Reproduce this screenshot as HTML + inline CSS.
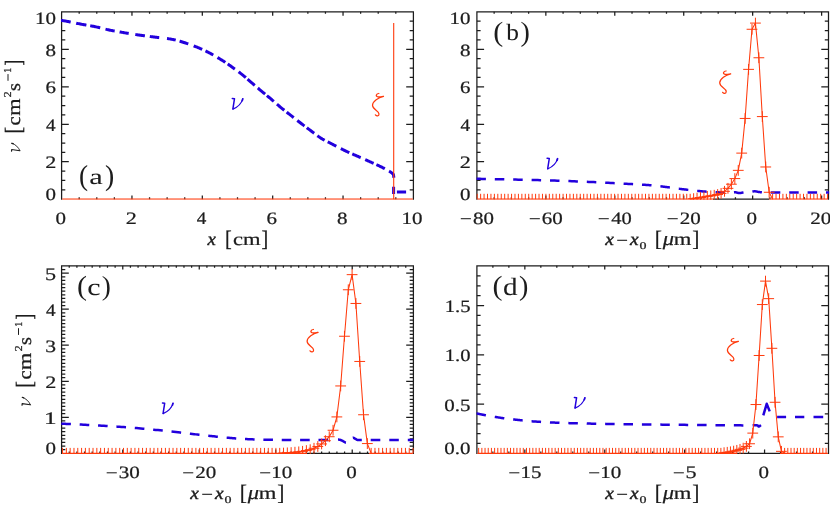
<!DOCTYPE html>
<html><head><meta charset="utf-8"><title>figure</title>
<style>html,body{margin:0;padding:0;background:#fff;}body{width:830px;height:507px;overflow:hidden;font-family:"Liberation Serif",serif;}svg{display:block;will-change:transform;text-rendering:geometricPrecision;}</style></head>
<body>
<svg width="830" height="507" viewBox="0 0 830 507" font-family='"Liberation Serif", serif'>
<rect width="830" height="507" fill="#fff"/>
<defs>
<clipPath id="cpa"><rect x="61.00" y="11.25" width="353.00" height="188.55"/></clipPath>
<clipPath id="cpb"><rect x="476.30" y="11.25" width="352.80" height="188.55"/></clipPath>
<clipPath id="cpc"><rect x="61.00" y="265.15" width="353.00" height="188.75"/></clipPath>
<clipPath id="cpd"><rect x="476.30" y="265.15" width="352.80" height="188.75"/></clipPath>
</defs>
<path d="M61.60,199.82 V11.85 H413.40 V199.82" fill="none" stroke="#1c1c1c" stroke-width="1.25" stroke-linejoin="miter"/>
<path d="M79.19,199.20v-1.9M79.19,11.85v1.9M96.78,199.20v-1.9M96.78,11.85v1.9M114.37,199.20v-1.9M114.37,11.85v1.9M131.96,199.20v-3.8M131.96,11.85v3.8M149.55,199.20v-1.9M149.55,11.85v1.9M167.14,199.20v-1.9M167.14,11.85v1.9M184.73,199.20v-1.9M184.73,11.85v1.9M202.32,199.20v-3.8M202.32,11.85v3.8M219.91,199.20v-1.9M219.91,11.85v1.9M237.50,199.20v-1.9M237.50,11.85v1.9M255.09,199.20v-1.9M255.09,11.85v1.9M272.68,199.20v-3.8M272.68,11.85v3.8M290.27,199.20v-1.9M290.27,11.85v1.9M307.86,199.20v-1.9M307.86,11.85v1.9M325.45,199.20v-1.9M325.45,11.85v1.9M343.04,199.20v-3.8M343.04,11.85v3.8M360.63,199.20v-1.9M360.63,11.85v1.9M378.22,199.20v-1.9M378.22,11.85v1.9M395.81,199.20v-1.9M395.81,11.85v1.9M61.60,189.83h3.7M413.40,189.83h-3.7M61.60,180.46h3.7M413.40,180.46h-3.7M61.60,171.10h3.7M413.40,171.10h-3.7M61.60,161.73h7.2M413.40,161.73h-7.2M61.60,152.36h3.7M413.40,152.36h-3.7M61.60,143.00h3.7M413.40,143.00h-3.7M61.60,133.63h3.7M413.40,133.63h-3.7M61.60,124.26h7.2M413.40,124.26h-7.2M61.60,114.89h3.7M413.40,114.89h-3.7M61.60,105.52h3.7M413.40,105.52h-3.7M61.60,96.16h3.7M413.40,96.16h-3.7M61.60,86.79h7.2M413.40,86.79h-7.2M61.60,77.42h3.7M413.40,77.42h-3.7M61.60,68.06h3.7M413.40,68.06h-3.7M61.60,58.69h3.7M413.40,58.69h-3.7M61.60,49.32h7.2M413.40,49.32h-7.2M61.60,39.95h3.7M413.40,39.95h-3.7M61.60,30.58h3.7M413.40,30.58h-3.7M61.60,21.22h3.7M413.40,21.22h-3.7" fill="none" stroke="#1c1c1c" stroke-width="1.25"/>
<path d="M476.90,199.82 V11.85 H828.50 V199.82 M713.00,199.20 H769.00" fill="none" stroke="#1c1c1c" stroke-width="1.25" stroke-linejoin="miter"/>
<path d="M494.14,199.20v-1.9M494.14,11.85v1.9M511.37,199.20v-1.9M511.37,11.85v1.9M528.61,199.20v-1.9M528.61,11.85v1.9M545.84,199.20v-3.8M545.84,11.85v3.8M563.08,199.20v-1.9M563.08,11.85v1.9M580.31,199.20v-1.9M580.31,11.85v1.9M597.55,199.20v-1.9M597.55,11.85v1.9M614.78,199.20v-3.8M614.78,11.85v3.8M632.02,199.20v-1.9M632.02,11.85v1.9M649.25,199.20v-1.9M649.25,11.85v1.9M666.49,199.20v-1.9M666.49,11.85v1.9M683.72,199.20v-3.8M683.72,11.85v3.8M700.96,199.20v-1.9M700.96,11.85v1.9M718.19,199.20v-1.9M718.19,11.85v1.9M735.43,199.20v-1.9M735.43,11.85v1.9M752.66,199.20v-3.8M752.66,11.85v3.8M769.90,199.20v-1.9M769.90,11.85v1.9M787.14,199.20v-1.9M787.14,11.85v1.9M804.37,199.20v-1.9M804.37,11.85v1.9M821.61,199.20v-3.8M821.61,11.85v3.8M476.90,189.83h3.7M828.50,189.83h-3.7M476.90,180.46h3.7M828.50,180.46h-3.7M476.90,171.10h3.7M828.50,171.10h-3.7M476.90,161.73h7.2M828.50,161.73h-7.2M476.90,152.36h3.7M828.50,152.36h-3.7M476.90,143.00h3.7M828.50,143.00h-3.7M476.90,133.63h3.7M828.50,133.63h-3.7M476.90,124.26h7.2M828.50,124.26h-7.2M476.90,114.89h3.7M828.50,114.89h-3.7M476.90,105.52h3.7M828.50,105.52h-3.7M476.90,96.16h3.7M828.50,96.16h-3.7M476.90,86.79h7.2M828.50,86.79h-7.2M476.90,77.42h3.7M828.50,77.42h-3.7M476.90,68.06h3.7M828.50,68.06h-3.7M476.90,58.69h3.7M828.50,58.69h-3.7M476.90,49.32h7.2M828.50,49.32h-7.2M476.90,39.95h3.7M828.50,39.95h-3.7M476.90,30.58h3.7M828.50,30.58h-3.7M476.90,21.22h3.7M828.50,21.22h-3.7" fill="none" stroke="#1c1c1c" stroke-width="1.25"/>
<path d="M61.60,453.93 V265.75 H413.40 V453.93 M307.00,453.30 H369.00" fill="none" stroke="#1c1c1c" stroke-width="1.25" stroke-linejoin="miter"/>
<path d="M69.25,453.30v-1.9M69.25,265.75v1.9M76.90,453.30v-1.9M76.90,265.75v1.9M84.54,453.30v-1.9M84.54,265.75v1.9M92.19,453.30v-1.9M92.19,265.75v1.9M99.84,453.30v-1.9M99.84,265.75v1.9M107.49,453.30v-1.9M107.49,265.75v1.9M115.13,453.30v-1.9M115.13,265.75v1.9M122.78,453.30v-3.8M122.78,265.75v3.8M130.43,453.30v-1.9M130.43,265.75v1.9M138.08,453.30v-1.9M138.08,265.75v1.9M145.73,453.30v-1.9M145.73,265.75v1.9M153.37,453.30v-1.9M153.37,265.75v1.9M161.02,453.30v-1.9M161.02,265.75v1.9M168.67,453.30v-1.9M168.67,265.75v1.9M176.32,453.30v-1.9M176.32,265.75v1.9M183.97,453.30v-1.9M183.97,265.75v1.9M191.61,453.30v-1.9M191.61,265.75v1.9M199.26,453.30v-3.8M199.26,265.75v3.8M206.91,453.30v-1.9M206.91,265.75v1.9M214.56,453.30v-1.9M214.56,265.75v1.9M222.20,453.30v-1.9M222.20,265.75v1.9M229.85,453.30v-1.9M229.85,265.75v1.9M237.50,453.30v-1.9M237.50,265.75v1.9M245.15,453.30v-1.9M245.15,265.75v1.9M252.80,453.30v-1.9M252.80,265.75v1.9M260.44,453.30v-1.9M260.44,265.75v1.9M268.09,453.30v-1.9M268.09,265.75v1.9M275.74,453.30v-3.8M275.74,265.75v3.8M283.39,453.30v-1.9M283.39,265.75v1.9M291.03,453.30v-1.9M291.03,265.75v1.9M298.68,453.30v-1.9M298.68,265.75v1.9M306.33,453.30v-1.9M306.33,265.75v1.9M313.98,453.30v-1.9M313.98,265.75v1.9M321.63,453.30v-1.9M321.63,265.75v1.9M329.27,453.30v-1.9M329.27,265.75v1.9M336.92,453.30v-1.9M336.92,265.75v1.9M344.57,453.30v-1.9M344.57,265.75v1.9M352.22,453.30v-3.8M352.22,265.75v3.8M359.87,453.30v-1.9M359.87,265.75v1.9M367.51,453.30v-1.9M367.51,265.75v1.9M375.16,453.30v-1.9M375.16,265.75v1.9M382.81,453.30v-1.9M382.81,265.75v1.9M390.46,453.30v-1.9M390.46,265.75v1.9M398.10,453.30v-1.9M398.10,265.75v1.9M405.75,453.30v-1.9M405.75,265.75v1.9M61.60,449.70h3.7M413.40,449.70h-3.7M61.60,446.10h3.7M413.40,446.10h-3.7M61.60,442.49h3.7M413.40,442.49h-3.7M61.60,438.89h3.7M413.40,438.89h-3.7M61.60,435.29h3.7M413.40,435.29h-3.7M61.60,431.69h3.7M413.40,431.69h-3.7M61.60,428.09h3.7M413.40,428.09h-3.7M61.60,424.48h3.7M413.40,424.48h-3.7M61.60,420.88h3.7M413.40,420.88h-3.7M61.60,417.28h7.2M413.40,417.28h-7.2M61.60,413.68h3.7M413.40,413.68h-3.7M61.60,410.08h3.7M413.40,410.08h-3.7M61.60,406.48h3.7M413.40,406.48h-3.7M61.60,402.87h3.7M413.40,402.87h-3.7M61.60,399.27h3.7M413.40,399.27h-3.7M61.60,395.67h3.7M413.40,395.67h-3.7M61.60,392.07h3.7M413.40,392.07h-3.7M61.60,388.47h3.7M413.40,388.47h-3.7M61.60,384.86h3.7M413.40,384.86h-3.7M61.60,381.26h7.2M413.40,381.26h-7.2M61.60,377.66h3.7M413.40,377.66h-3.7M61.60,374.06h3.7M413.40,374.06h-3.7M61.60,370.46h3.7M413.40,370.46h-3.7M61.60,366.85h3.7M413.40,366.85h-3.7M61.60,363.25h3.7M413.40,363.25h-3.7M61.60,359.65h3.7M413.40,359.65h-3.7M61.60,356.05h3.7M413.40,356.05h-3.7M61.60,352.45h3.7M413.40,352.45h-3.7M61.60,348.85h3.7M413.40,348.85h-3.7M61.60,345.24h7.2M413.40,345.24h-7.2M61.60,341.64h3.7M413.40,341.64h-3.7M61.60,338.04h3.7M413.40,338.04h-3.7M61.60,334.44h3.7M413.40,334.44h-3.7M61.60,330.84h3.7M413.40,330.84h-3.7M61.60,327.23h3.7M413.40,327.23h-3.7M61.60,323.63h3.7M413.40,323.63h-3.7M61.60,320.03h3.7M413.40,320.03h-3.7M61.60,316.43h3.7M413.40,316.43h-3.7M61.60,312.83h3.7M413.40,312.83h-3.7M61.60,309.22h7.2M413.40,309.22h-7.2M61.60,305.62h3.7M413.40,305.62h-3.7M61.60,302.02h3.7M413.40,302.02h-3.7M61.60,298.42h3.7M413.40,298.42h-3.7M61.60,294.82h3.7M413.40,294.82h-3.7M61.60,291.22h3.7M413.40,291.22h-3.7M61.60,287.61h3.7M413.40,287.61h-3.7M61.60,284.01h3.7M413.40,284.01h-3.7M61.60,280.41h3.7M413.40,280.41h-3.7M61.60,276.81h3.7M413.40,276.81h-3.7M61.60,273.21h7.2M413.40,273.21h-7.2M61.60,269.60h3.7M413.40,269.60h-3.7" fill="none" stroke="#1c1c1c" stroke-width="1.25"/>
<path d="M476.90,453.93 V265.75 H828.50 V453.93 M737.00,453.30 H780.00" fill="none" stroke="#1c1c1c" stroke-width="1.25" stroke-linejoin="miter"/>
<path d="M492.88,453.30v-1.9M492.88,265.75v1.9M508.86,453.30v-1.9M508.86,265.75v1.9M524.85,453.30v-3.8M524.85,265.75v3.8M540.83,453.30v-1.9M540.83,265.75v1.9M556.81,453.30v-1.9M556.81,265.75v1.9M572.79,453.30v-1.9M572.79,265.75v1.9M588.77,453.30v-1.9M588.77,265.75v1.9M604.75,453.30v-3.8M604.75,265.75v3.8M620.74,453.30v-1.9M620.74,265.75v1.9M636.72,453.30v-1.9M636.72,265.75v1.9M652.70,453.30v-1.9M652.70,265.75v1.9M668.68,453.30v-1.9M668.68,265.75v1.9M684.66,453.30v-3.8M684.66,265.75v3.8M700.65,453.30v-1.9M700.65,265.75v1.9M716.63,453.30v-1.9M716.63,265.75v1.9M732.61,453.30v-1.9M732.61,265.75v1.9M748.59,453.30v-1.9M748.59,265.75v1.9M764.57,453.30v-3.8M764.57,265.75v3.8M780.55,453.30v-1.9M780.55,265.75v1.9M796.54,453.30v-1.9M796.54,265.75v1.9M812.52,453.30v-1.9M812.52,265.75v1.9M476.90,443.45h3.7M828.50,443.45h-3.7M476.90,433.60h3.7M828.50,433.60h-3.7M476.90,423.75h3.7M828.50,423.75h-3.7M476.90,413.90h3.7M828.50,413.90h-3.7M476.90,404.05h7.2M828.50,404.05h-7.2M476.90,394.20h3.7M828.50,394.20h-3.7M476.90,384.35h3.7M828.50,384.35h-3.7M476.90,374.50h3.7M828.50,374.50h-3.7M476.90,364.65h3.7M828.50,364.65h-3.7M476.90,354.80h7.2M828.50,354.80h-7.2M476.90,344.95h3.7M828.50,344.95h-3.7M476.90,335.10h3.7M828.50,335.10h-3.7M476.90,325.25h3.7M828.50,325.25h-3.7M476.90,315.40h3.7M828.50,315.40h-3.7M476.90,305.55h7.2M828.50,305.55h-7.2M476.90,295.69h3.7M828.50,295.69h-3.7M476.90,285.84h3.7M828.50,285.84h-3.7M476.90,275.99h3.7M828.50,275.99h-3.7" fill="none" stroke="#1c1c1c" stroke-width="1.25"/>
<g clip-path="url(#cpa)">
<path d="M61.00,20.50 L61.60,20.50 L61.74,20.52 L61.87,20.53 L62.00,20.55 L62.15,20.56 L62.30,20.57 L62.47,20.59 L62.66,20.61 L62.87,20.63 L63.12,20.66 L63.39,20.70 L63.71,20.75 L64.07,20.80 L64.48,20.87 L64.95,20.95 L65.47,21.04 L66.05,21.15 L66.71,21.28 L67.45,21.42 L68.26,21.58 L69.13,21.76 L70.06,21.94 L70.70,22.07 M76.20,23.19 L76.27,23.21 L77.33,23.42 L78.37,23.63 L79.38,23.83 L80.36,24.02 L81.30,24.20 L82.20,24.37 L83.10,24.53 L83.98,24.69 L84.85,24.84 L85.71,24.99 L86.40,25.11 M90.20,25.75 L90.83,25.86 L91.69,26.02 L92.55,26.18 L93.42,26.34 L94.31,26.52 L95.20,26.70 L96.11,26.89 L97.02,27.10 L97.94,27.31 L98.87,27.53 L99.81,27.75 L100.20,27.85 M105.50,29.15 L106.41,29.37 L107.34,29.59 L108.27,29.80 L109.19,30.01 L110.10,30.20 L111.00,30.38 L111.88,30.56 L112.76,30.73 L113.63,30.90 L114.49,31.06 L114.70,31.09 M119.60,31.94 L119.65,31.95 L120.52,32.10 L121.41,32.25 L122.31,32.39 L123.22,32.55 L124.15,32.70 L125.10,32.86 L126.06,33.02 L127.05,33.18 L128.04,33.34 L128.70,33.45 M135.30,34.48 L136.18,34.62 L137.18,34.77 L138.17,34.92 L139.14,35.06 L140.10,35.20 L141.04,35.33 L141.96,35.46 L142.86,35.59 L143.75,35.71 L144.63,35.83 L144.90,35.87 M149.80,36.50 L149.87,36.51 L150.76,36.63 L151.67,36.74 L152.59,36.86 L153.54,36.98 L154.50,37.10 L155.49,37.22 L156.52,37.34 L157.57,37.46 L158.64,37.58 L159.20,37.64 M167.00,38.54 L167.38,38.59 L168.42,38.73 L169.43,38.88 L170.41,39.04 L171.35,39.20 L172.25,39.37 L173.12,39.54 L173.96,39.72 L174.77,39.90 L175.55,40.08 L175.70,40.12 M179.60,41.17 L180.05,41.30 L180.80,41.52 L181.56,41.76 L182.34,42.00 L183.13,42.24 L183.95,42.50 L184.79,42.77 L185.65,43.05 L186.53,43.33 L187.41,43.63 L188.30,43.94 M193.70,45.88 L193.72,45.89 L194.60,46.23 L195.47,46.56 L196.31,46.89 L197.14,47.22 L197.95,47.55 L198.73,47.87 L199.49,48.19 L200.24,48.51 L200.97,48.83 L201.68,49.15 L202.20,49.38 M205.50,50.94 L205.83,51.10 L206.52,51.44 L207.21,51.79 L207.91,52.15 L208.62,52.52 L209.35,52.90 L210.09,53.29 L210.84,53.69 L211.60,54.11 L212.37,54.53 L213.14,54.96 L213.30,55.05 M217.50,57.49 L217.77,57.65 L218.52,58.10 L219.26,58.54 L219.99,58.98 L220.70,59.42 L221.40,59.85 L222.08,60.27 L222.73,60.69 L223.38,61.09 L224.00,61.50 L224.62,61.90 L225.23,62.30 L225.30,62.35 M227.70,63.98 L228.20,64.32 L228.81,64.74 L229.41,65.17 L230.03,65.60 L230.66,66.05 L231.30,66.50 L231.96,66.97 L232.63,67.45 L233.31,67.93 L234.00,68.43 L234.70,68.94 L234.90,69.08 M238.60,71.82 L238.90,72.05 L239.59,72.57 L240.26,73.08 L240.92,73.59 L241.57,74.10 L242.20,74.60 L242.81,75.09 L243.41,75.58 L243.99,76.06 L244.55,76.54 L245.11,77.01 L245.66,77.49 L245.80,77.61 M247.60,79.19 L247.82,79.39 L248.36,79.87 L248.91,80.35 L249.46,80.84 L250.03,81.34 L250.61,81.84 L251.20,82.35 L251.81,82.87 L252.43,83.41 L253.06,83.95 L253.71,84.50 L254.36,85.06 L254.80,85.44 M257.80,88.01 L258.30,88.44 L258.95,88.99 L259.59,89.53 L260.22,90.07 L260.84,90.59 L261.45,91.10 L262.04,91.60 L262.62,92.08 L263.18,92.54 L263.74,93.00 L264.28,93.45 L264.82,93.89 L265.10,94.12 M266.90,95.59 L266.97,95.65 L267.51,96.09 L268.06,96.54 L268.61,97.00 L269.18,97.47 L269.76,97.95 L270.35,98.45 L270.96,98.96 L271.58,99.49 L272.21,100.03 L272.84,100.59 L273.49,101.15 L273.80,101.42 M277.00,104.20 L277.44,104.58 L278.09,105.14 L278.75,105.70 L279.39,106.24 L280.02,106.78 L280.65,107.30 L281.27,107.81 L281.87,108.30 L282.47,108.79 L283.06,109.27 L283.65,109.74 L284.24,110.21 L284.30,110.26 M286.70,112.15 L287.16,112.51 L287.75,112.98 L288.35,113.45 L288.96,113.92 L289.57,114.41 L290.20,114.90 L290.84,115.40 L291.49,115.92 L292.15,116.43 L292.82,116.96 L293.49,117.49 L293.70,117.65 M297.30,120.47 L297.60,120.70 L298.27,121.22 L298.94,121.74 L299.60,122.25 L300.26,122.76 L300.90,123.25 L301.53,123.73 L302.15,124.21 L302.76,124.67 L303.37,125.13 L303.97,125.58 L304.50,125.98 M306.90,127.78 L306.92,127.80 L307.51,128.24 L308.11,128.68 L308.71,129.13 L309.31,129.58 L309.93,130.04 L310.55,130.50 L311.18,130.97 L311.81,131.45 L312.45,131.94 L313.09,132.44 L313.74,132.94 L314.20,133.29 M317.40,135.72 L317.67,135.92 L318.33,136.40 L319.00,136.87 L319.66,137.33 L320.33,137.77 L321.00,138.20 L321.67,138.61 L322.33,139.01 L323.00,139.39 L323.66,139.76 L324.33,140.12 L324.60,140.27 M327.70,141.84 L327.70,141.84 L328.39,142.18 L329.09,142.53 L329.80,142.88 L330.52,143.24 L331.26,143.62 L332.00,144.00 L332.76,144.40 L333.54,144.81 L334.34,145.22 L335.16,145.65 L335.98,146.08 L336.30,146.25 M340.80,148.58 L341.02,148.69 L341.85,149.12 L342.67,149.53 L343.48,149.93 L344.27,150.32 L345.05,150.70 L345.81,151.06 L346.55,151.41 L347.28,151.75 L347.99,152.07 L348.70,152.39 L349.30,152.66 M352.30,153.97 L352.87,154.22 L353.57,154.52 L354.29,154.83 L355.01,155.14 L355.75,155.47 L356.50,155.80 L357.27,156.14 L358.05,156.49 L358.85,156.84 L359.66,157.20 L360.48,157.56 L360.70,157.65 M365.20,159.63 L365.45,159.74 L366.26,160.10 L367.07,160.46 L367.86,160.81 L368.64,161.16 L369.40,161.50 L370.15,161.84 L370.90,162.17 L371.65,162.50 L372.39,162.83 L373.12,163.16 L373.60,163.37 M376.40,164.63 L376.68,164.76 L377.36,165.07 L378.04,165.38 L378.70,165.69 L379.35,166.00 L379.98,166.30 L380.60,166.60 L381.21,166.90 L381.82,167.21 L382.42,167.52 L383.02,167.82 L383.61,168.13 L384.18,168.44 L384.75,168.74 L384.80,168.77 M389.00,171.10 L389.35,171.30 L389.67,171.49 L389.97,171.67 L390.24,171.84 L390.49,172.00 L390.72,172.16 L390.93,172.30 L391.12,172.43 L391.30,172.56 L391.46,172.67 L391.61,172.78 L391.75,172.88 L391.87,172.97 L391.99,173.05 L392.10,173.13 L392.20,173.20 L393.4,174.6 L393.9,177.8 M393.6,186.8 V194.0 M396.9,192.1 H406.1" fill="none" stroke="#2200dd" stroke-width="3.0" stroke-linejoin="round"/>
<path d="M62.20,199.20 H412.80" fill="none" stroke="#ff3a0c" stroke-width="1.3"/>
<path d="M393.7,199.20 V22.9" fill="none" stroke="#ff3a0c" stroke-width="1.1"/>
</g>
<g clip-path="url(#cpb)">
<path d="M476.40,178.80 L476.90,178.80 L478.26,178.83 L479.90,178.86 L481.79,178.90 L483.89,178.94 L485.90,178.98 M494.80,179.16 L496.69,179.19 L499.50,179.25 L502.34,179.31 L504.30,179.35 M513.20,179.54 L513.30,179.54 L515.80,179.60 L518.23,179.66 L520.66,179.71 L522.70,179.76 M531.60,179.97 L532.82,180.00 L535.25,180.06 L537.68,180.12 L540.11,180.18 L541.10,180.21 M550.00,180.45 L552.27,180.52 L554.70,180.60 L557.14,180.68 L559.50,180.76 M568.40,181.07 L569.38,181.11 L571.84,181.20 L574.29,181.29 L576.73,181.39 L577.90,181.44 M586.80,181.80 L588.84,181.89 L591.23,181.99 L593.60,182.10 L595.98,182.21 L596.30,182.22 M605.20,182.65 L605.73,182.68 L608.18,182.81 L610.62,182.93 L613.03,183.06 L614.70,183.14 M623.60,183.63 L624.38,183.67 L626.45,183.78 L628.42,183.89 L630.30,184.00 L632.08,184.10 L633.10,184.16 M642.00,184.68 L642.47,184.71 L643.74,184.79 L644.98,184.87 L646.18,184.95 L647.36,185.03 L648.53,185.12 L649.69,185.21 L650.84,185.30 L651.50,185.36 M660.40,186.29 L660.86,186.35 L661.75,186.46 L662.66,186.58 L663.57,186.70 L664.51,186.82 L665.47,186.94 L666.47,187.07 L667.50,187.20 L668.57,187.33 L669.65,187.47 L669.90,187.51 M678.80,188.71 L678.81,188.71 L679.99,188.87 L681.16,189.02 L682.33,189.17 L683.49,189.32 L684.65,189.46 L685.80,189.60 L686.94,189.73 L688.09,189.87 L688.30,189.89 M697.20,190.88 L697.24,190.88 L698.38,191.00 L699.52,191.11 L700.67,191.21 L701.81,191.31 L702.96,191.41 L704.10,191.50 L705.26,191.59 L706.45,191.67 L706.70,191.68 M715.60,192.15 L716.25,192.18 L717.40,192.23 L718.51,192.27 L719.57,192.31 L720.58,192.34 L721.52,192.37 L722.40,192.40 L723.21,192.42 L723.97,192.44 L724.68,192.44 L725.10,192.44 M734.00,192.16 L734.07,192.15 L734.28,192.16 L734.51,192.16 L734.74,192.18 L735.00,192.20 L735.27,192.23 L735.54,192.28 L735.81,192.33 L736.09,192.39 L736.37,192.46 L736.65,192.54 L736.93,192.62 L737.22,192.69 L737.50,192.77 L737.79,192.84 L738.08,192.91 L738.36,192.97 L738.65,193.02 L738.93,193.06 L739.22,193.09 L739.50,193.10 L739.78,193.09 L740.07,193.07 L740.37,193.04 L740.66,193.00 L740.96,192.94 L741.25,192.88 L741.55,192.81 L741.84,192.74 L742.14,192.67 L742.42,192.60 L742.70,192.53 L742.98,192.47 L743.25,192.41 L743.50,192.37 M752.40,191.63 L752.45,191.62 L752.75,191.55 L753.04,191.48 L753.34,191.43 L753.63,191.38 L753.93,191.34 L754.22,191.31 L754.50,191.30 L754.78,191.30 L755.07,191.31 L755.35,191.34 L755.64,191.37 L755.92,191.41 L756.21,191.46 L756.50,191.51 L756.78,191.57 L757.07,191.63 L757.35,191.69 L757.63,191.75 L757.91,191.81 L758.19,191.86 L758.46,191.92 L758.73,191.96 L759.00,192.00 L759.26,192.03 L759.52,192.07 L759.76,192.10 L760.01,192.13 L760.25,192.16 L760.48,192.19 L760.72,192.22 L760.96,192.24 L761.19,192.27 L761.43,192.29 L761.68,192.31 L761.90,192.33 M770.80,192.40 L773.51,192.40 L776.96,192.40 L780.30,192.40 M789.20,192.40 L789.43,192.40 L794.01,192.40 L798.68,192.40 L798.70,192.40 M807.60,192.40 L807.88,192.40 L812.26,192.40 L816.37,192.40 L817.10,192.40 M826.00,192.40 L826.29,192.40 L828.50,192.40 L835.50,192.40" fill="none" stroke="#2200dd" stroke-width="2.5" stroke-linejoin="round"/>
<path d="M477.50,199.20H713.00M769.00,199.20H827.90" fill="none" stroke="#ff3a0c" stroke-width="1.2"/>
<path d="M690.17,199.20 L693.61,198.64 L697.04,198.08 L700.48,197.51 L703.91,196.95 L707.35,196.39 L710.78,195.83 L714.22,195.27 L717.65,194.52 L721.09,193.39 L724.52,191.33 L727.96,188.33 L731.39,184.21 L734.83,178.59 L738.26,170.35 L741.70,153.11 L745.13,118.45 L748.57,69.37 L752.00,29.27 L755.43,23.09 L758.87,57.75 L762.30,116.58 L765.74,166.98 L769.17,192.27 L772.61,199.20" fill="none" stroke="#ff3a0c" stroke-width="1.05" stroke-linejoin="round"/>
<path d="M477.20,193.80V199.20M480.63,193.80V199.20M484.07,193.80V199.20M487.50,193.80V199.20M490.94,193.80V199.20M494.38,193.80V199.20M497.81,193.80V199.20M501.25,193.80V199.20M504.68,193.80V199.20M508.12,193.80V199.20M511.55,193.80V199.20M514.99,193.80V199.20M518.42,193.80V199.20M521.86,193.80V199.20M525.29,193.80V199.20M528.73,193.80V199.20M532.16,193.80V199.20M535.60,193.80V199.20M539.03,193.80V199.20M542.47,193.80V199.20M545.90,193.80V199.20M549.34,193.80V199.20M552.77,193.80V199.20M556.20,193.80V199.20M559.64,193.80V199.20M563.08,193.80V199.20M566.51,193.80V199.20M569.94,193.80V199.20M573.38,193.80V199.20M576.82,193.80V199.20M580.25,193.80V199.20M583.68,193.80V199.20M587.12,193.80V199.20M590.56,193.80V199.20M593.99,193.80V199.20M597.42,193.80V199.20M600.86,193.80V199.20M604.29,193.80V199.20M607.73,193.80V199.20M611.16,193.80V199.20M614.60,193.80V199.20M618.03,193.80V199.20M621.47,193.80V199.20M624.90,193.80V199.20M628.34,193.80V199.20M631.77,193.80V199.20M635.21,193.80V199.20M638.64,193.80V199.20M642.08,193.80V199.20M645.51,193.80V199.20M648.95,193.80V199.20M652.38,193.80V199.20M655.82,193.80V199.20M659.25,193.80V199.20M662.69,193.80V199.20M666.12,193.80V199.20M669.56,193.80V199.20M673.00,193.80V199.20M676.43,193.80V199.20M679.87,193.80V199.20M683.30,193.80V199.20M686.74,193.80V199.20M690.17,193.80V199.20M688.21,198.64h10.8M693.61,193.24v10.8M691.64,198.08h10.8M697.04,192.68v10.8M695.08,197.51h10.8M700.48,192.11v10.8M698.51,196.95h10.8M703.91,191.55v10.8M701.95,196.39h10.8M707.35,190.99v10.8M705.38,195.83h10.8M710.78,190.43v10.8M708.82,195.27h10.8M714.22,189.87v10.8M712.25,194.52h10.8M717.65,189.12v10.8M715.69,193.39h10.8M721.09,187.99v10.8M719.12,191.33h10.8M724.52,185.93v10.8M722.56,188.33h10.8M727.96,182.93v10.8M725.99,184.21h10.8M731.39,178.81v10.8M729.43,178.59h10.8M734.83,173.19v10.8M732.86,170.35h10.8M738.26,164.95v10.8M736.30,153.11h10.8M741.70,147.71v10.8M739.73,118.45h10.8M745.13,113.05v10.8M743.17,69.37h10.8M748.57,63.97v10.8M746.60,29.27h10.8M752.00,23.87v10.8M750.03,23.09h10.8M755.43,17.69v10.8M753.47,57.75h10.8M758.87,52.35v10.8M756.90,116.58h10.8M762.30,111.18v10.8M760.34,166.98h10.8M765.74,161.58v10.8M763.77,192.27h10.8M769.17,186.87v10.8M772.61,193.80V199.20M776.04,193.80V199.20M779.48,193.80V199.20M782.91,193.80V199.20M786.35,193.80V199.20M789.78,193.80V199.20M793.22,193.80V199.20M796.65,193.80V199.20M800.09,193.80V199.20M803.52,193.80V199.20M806.96,193.80V199.20M810.39,193.80V199.20M813.83,193.80V199.20M817.26,193.80V199.20M820.70,193.80V199.20M824.13,193.80V199.20M827.57,193.80V199.20" fill="none" stroke="#ff3a0c" stroke-width="1.0"/>
</g>
<g clip-path="url(#cpc)">
<path d="M61.30,423.70 L61.60,423.70 L62.56,423.74 L63.69,423.79 L64.98,423.85 L66.42,423.91 L67.99,423.98 L69.66,424.06 L70.90,424.11 M79.67,424.51 L81.25,424.59 L83.30,424.69 L85.33,424.79 L87.33,424.89 L89.27,425.00 M98.04,425.48 L99.56,425.57 L101.71,425.69 L103.89,425.81 L106.09,425.94 L107.64,426.04 M116.41,426.59 L117.16,426.64 L119.36,426.79 L121.54,426.94 L123.70,427.10 L125.85,427.26 L126.01,427.27 M134.78,427.97 L136.57,428.12 L138.71,428.30 L140.85,428.49 L142.99,428.68 L144.38,428.80 M153.15,429.62 L153.71,429.68 L155.85,429.89 L158.00,430.10 L160.17,430.32 L162.37,430.55 L162.75,430.59 M171.52,431.57 L173.66,431.82 L175.91,432.08 L178.14,432.34 L180.34,432.60 L181.12,432.69 M189.89,433.72 L190.57,433.79 L192.40,434.00 L194.15,434.20 L195.82,434.38 L197.42,434.56 L198.96,434.74 L199.49,434.79 M208.26,435.76 L208.62,435.80 L209.93,435.94 L211.24,436.08 L212.57,436.22 L213.92,436.36 L215.30,436.50 L216.69,436.64 L217.86,436.76 M226.63,437.63 L227.48,437.71 L228.82,437.84 L230.16,437.96 L231.51,438.07 L232.87,438.19 L234.23,438.30 L235.61,438.40 L236.23,438.44 M245.00,439.00 L245.22,439.01 L246.60,439.08 L247.98,439.15 L249.38,439.22 L250.81,439.28 L252.25,439.34 L253.73,439.40 L254.60,439.43 M263.37,439.69 L265.05,439.72 L266.77,439.76 L268.52,439.79 L270.30,439.82 L272.10,439.84 L272.97,439.86 M281.74,439.95 L283.66,439.96 L285.72,439.97 L287.84,439.99 L290.00,440.00 L291.34,440.01 M300.11,440.04 L302.82,440.04 L305.66,440.05 L308.51,440.05 L309.71,440.05 M318.48,440.04 L319.50,440.04 L321.99,440.04 L324.31,440.03 L326.44,440.02 L328.08,440.01 M338.00,439.59 L338.06,439.59 L338.40,439.60 L338.76,439.62 L339.08,439.65 L339.37,439.69 L339.64,439.73 L339.88,439.78 L340.10,439.83 L340.30,439.89 L340.49,439.95 L340.68,440.02 L340.85,440.09 L341.03,440.17 L341.21,440.25 L341.39,440.33 L341.58,440.42 L341.78,440.51 L342.00,440.60 L342.23,440.70 L342.47,440.82 L342.71,440.95 L342.95,441.08 L343.20,441.23 L343.44,441.38 L343.69,441.53 L343.93,441.68 L344.17,441.83 L344.41,441.97 L344.64,442.11 L344.87,442.24 L345.09,442.35 L345.30,442.45 L345.51,442.54 L345.70,442.60 L345.88,442.65 L345.90,442.65 M352.80,437.83 L352.84,437.82 L353.00,437.80 L353.16,437.79 L353.31,437.81 L353.47,437.84 L353.62,437.89 L353.78,437.94 L353.94,438.01 L354.09,438.09 L354.25,438.18 L354.41,438.27 L354.56,438.37 L354.72,438.47 L354.88,438.56 L355.03,438.66 L355.19,438.74 L355.34,438.83 L355.50,438.90 L355.65,438.97 L355.78,439.05 L355.90,439.12 L356.02,439.20 L356.13,439.28 L356.24,439.36 L356.35,439.44 L356.47,439.52 L356.59,439.59 L356.73,439.67 L356.89,439.74 L357.06,439.80 L357.25,439.86 L357.47,439.92 L357.72,439.96 L358.00,440.00 L358.24,440.03 L358.38,440.05 L358.44,440.07 L358.46,440.08 L358.47,440.08 L358.48,440.08 L358.52,440.08 L358.63,440.07 L358.83,440.06 L359.15,440.05 L359.60,440.04 L360.23,440.03 L361.06,440.02 L361.80,440.01 M370.70,440.00 L372.20,440.00 L375.32,440.00 L378.69,440.00 L380.30,440.00 M389.30,440.00 L389.64,440.00 L393.35,440.00 L396.98,440.00 L398.80,440.00 M407.80,440.00 L409.38,440.00 L411.63,440.00 L413.40,440.00" fill="none" stroke="#2200dd" stroke-width="2.5" stroke-linejoin="round"/>
<path d="M62.20,453.30H307.00M369.00,453.30H412.80" fill="none" stroke="#ff3a0c" stroke-width="1.2"/>
<path d="M279.71,453.30 L283.52,453.08 L287.33,452.87 L291.14,452.58 L294.95,452.22 L298.76,451.86 L302.57,451.32 L306.38,450.60 L310.19,449.70 L314.00,448.26 L317.81,446.46 L321.62,443.94 L325.43,440.69 L329.24,436.73 L333.05,430.25 L336.86,416.92 L340.67,385.94 L344.48,336.24 L348.29,289.77 L352.10,274.65 L355.91,303.46 L359.72,361.45 L363.53,414.76 L367.34,443.57 L371.15,453.30" fill="none" stroke="#ff3a0c" stroke-width="1.05" stroke-linejoin="round"/>
<path d="M62.54,447.90V453.30M66.35,447.90V453.30M70.16,447.90V453.30M73.97,447.90V453.30M77.78,447.90V453.30M81.59,447.90V453.30M85.40,447.90V453.30M89.21,447.90V453.30M93.02,447.90V453.30M96.83,447.90V453.30M100.64,447.90V453.30M104.45,447.90V453.30M108.26,447.90V453.30M112.07,447.90V453.30M115.88,447.90V453.30M119.69,447.90V453.30M123.50,447.90V453.30M127.31,447.90V453.30M131.12,447.90V453.30M134.93,447.90V453.30M138.74,447.90V453.30M142.55,447.90V453.30M146.36,447.90V453.30M150.17,447.90V453.30M153.98,447.90V453.30M157.79,447.90V453.30M161.60,447.90V453.30M165.41,447.90V453.30M169.22,447.90V453.30M173.03,447.90V453.30M176.84,447.90V453.30M180.65,447.90V453.30M184.46,447.90V453.30M188.27,447.90V453.30M192.08,447.90V453.30M195.89,447.90V453.30M199.70,447.90V453.30M203.51,447.90V453.30M207.32,447.90V453.30M211.13,447.90V453.30M214.94,447.90V453.30M218.75,447.90V453.30M222.56,447.90V453.30M226.37,447.90V453.30M230.18,447.90V453.30M233.99,447.90V453.30M237.80,447.90V453.30M241.61,447.90V453.30M245.42,447.90V453.30M249.23,447.90V453.30M253.04,447.90V453.30M256.85,447.90V453.30M260.66,447.90V453.30M264.47,447.90V453.30M268.28,447.90V453.30M272.09,447.90V453.30M275.90,447.90V453.30M279.71,447.90V453.30M278.12,453.08h10.8M283.52,447.68v10.8M281.93,452.87h10.8M287.33,447.47v10.8M285.74,452.58h10.8M291.14,447.18v10.8M289.55,452.22h10.8M294.95,446.82v10.8M293.36,451.86h10.8M298.76,446.46v10.8M297.17,451.32h10.8M302.57,445.92v10.8M300.98,450.60h10.8M306.38,445.20v10.8M304.79,449.70h10.8M310.19,444.30v10.8M308.60,448.26h10.8M314.00,442.86v10.8M312.41,446.46h10.8M317.81,441.06v10.8M316.22,443.94h10.8M321.62,438.54v10.8M320.03,440.69h10.8M325.43,435.29v10.8M323.84,436.73h10.8M329.24,431.33v10.8M327.65,430.25h10.8M333.05,424.85v10.8M331.46,416.92h10.8M336.86,411.52v10.8M335.27,385.94h10.8M340.67,380.54v10.8M339.08,336.24h10.8M344.48,330.84v10.8M342.89,289.77h10.8M348.29,284.37v10.8M346.70,274.65h10.8M352.10,269.25v10.8M350.51,303.46h10.8M355.91,298.06v10.8M354.32,361.45h10.8M359.72,356.05v10.8M358.13,414.76h10.8M363.53,409.36v10.8M361.94,443.57h10.8M367.34,438.17v10.8M371.15,447.90V453.30M374.96,447.90V453.30M378.77,447.90V453.30M382.58,447.90V453.30M386.39,447.90V453.30M390.20,447.90V453.30M394.01,447.90V453.30M397.82,447.90V453.30M401.63,447.90V453.30M405.44,447.90V453.30M409.25,447.90V453.30M413.06,447.90V453.30" fill="none" stroke="#ff3a0c" stroke-width="1.0"/>
</g>
<g clip-path="url(#cpd)">
<path d="M476.40,413.50 L476.90,413.50 L477.21,413.56 L477.58,413.64 L478.01,413.73 L478.49,413.83 L479.01,413.94 L479.57,414.05 L480.16,414.17 L480.77,414.30 L481.40,414.43 L482.04,414.56 L482.69,414.69 L483.34,414.82 L483.98,414.95 L484.61,415.07 L485.22,415.19 L485.80,415.30 L485.90,415.32 M494.79,416.85 L495.10,416.90 L495.67,416.99 L496.24,417.09 L496.80,417.18 L497.37,417.27 L497.93,417.36 L498.49,417.45 L499.05,417.54 L499.61,417.63 L500.17,417.72 L500.73,417.81 L501.29,417.89 L501.85,417.98 L502.41,418.06 L502.97,418.14 L503.54,418.22 L504.10,418.30 L504.29,418.33 M513.18,419.40 L513.20,419.40 L513.77,419.47 L514.35,419.53 L514.92,419.60 L515.49,419.66 L516.07,419.72 L516.64,419.79 L517.22,419.85 L517.79,419.91 L518.37,419.97 L518.95,420.04 L519.52,420.10 L520.10,420.16 L520.67,420.22 L521.25,420.28 L521.82,420.34 L522.40,420.40 L522.68,420.43 M531.57,421.30 L531.60,421.30 L532.18,421.35 L532.76,421.39 L533.34,421.43 L533.93,421.47 L534.51,421.51 L535.09,421.55 L535.68,421.59 L536.26,421.62 L536.85,421.66 L537.43,421.70 L538.01,421.73 L538.59,421.76 L539.17,421.80 L539.75,421.83 L540.33,421.87 L540.90,421.90 L541.07,421.91 M549.96,422.40 L550.48,422.43 L551.06,422.46 L551.64,422.48 L552.22,422.51 L552.81,422.54 L553.40,422.56 L553.99,422.59 L554.58,422.61 L555.17,422.64 L555.76,422.66 L556.36,422.69 L556.95,422.71 L557.54,422.73 L558.13,422.76 L558.71,422.78 L559.30,422.80 L559.46,422.81 M568.35,423.09 L568.60,423.10 L569.59,423.13 L570.64,423.15 L571.74,423.18 L572.90,423.21 L574.11,423.24 L575.36,423.27 L576.66,423.30 L577.85,423.33 M586.74,423.53 L586.83,423.54 L588.40,423.57 L590.00,423.60 L591.62,423.63 L593.27,423.66 L594.95,423.69 L596.24,423.72 M605.13,423.87 L605.72,423.88 L607.64,423.91 L609.60,423.94 L611.60,423.98 L613.63,424.01 L614.63,424.02 M623.52,424.15 L624.52,424.16 L626.88,424.20 L629.30,424.23 L631.76,424.26 L633.02,424.28 M641.91,424.39 L641.96,424.39 L644.56,424.42 L647.16,424.45 L649.77,424.48 L651.41,424.50 M660.30,424.60 L662.49,424.63 L664.97,424.65 L667.44,424.68 L669.80,424.71 M678.69,424.80 L679.72,424.81 L682.19,424.83 L684.67,424.85 L687.17,424.88 L688.19,424.89 M697.08,424.97 L697.38,424.98 L700.00,425.00 L702.72,425.03 L705.57,425.05 L706.58,425.06 M715.47,425.15 L717.79,425.17 L720.91,425.20 L724.00,425.23 L724.97,425.24 M733.86,425.32 L735.55,425.34 L738.10,425.36 L740.46,425.37 L742.60,425.39 L743.36,425.39 M752.60,425.32 L753.14,425.30 L753.67,425.28 L754.14,425.26 L754.56,425.25 L754.94,425.25 L755.31,425.25 L755.69,425.25 L756.08,425.27 L756.50,425.30 L756.91,425.34 L757.25,425.41 L757.53,425.48 L757.76,425.57 L757.94,425.67 L758.08,425.77 L758.19,425.87 L758.27,425.98 L758.33,426.08 L758.38,426.18 L758.42,426.27 L758.47,426.35 L758.52,426.42 L758.59,426.47 L758.68,426.49 L758.80,426.50 L758.94,426.48 L759.09,426.44 L759.24,426.38 L759.39,426.30 L759.54,426.21 L759.69,426.10 L759.85,425.99 L759.99,425.88 L760.14,425.76 L760.28,425.64 L760.41,425.52 L760.53,425.41 L760.64,425.31 L760.74,425.23 L760.83,425.15 L760.90,425.10 M763.30,415.40 L766.70,403.80 L769.70,411.40 M777.10,416.9H786.10 M795.00,416.9H804.30 M813.50,416.9H823.20" fill="none" stroke="#2200dd" stroke-width="2.5" stroke-linejoin="round"/>
<path d="M477.50,453.30H737.00M780.00,453.30H827.90" fill="none" stroke="#ff3a0c" stroke-width="1.2"/>
<path d="M720.88,453.30 L724.07,452.71 L727.26,452.31 L730.44,451.82 L733.63,451.13 L736.82,450.34 L740.00,449.36 L743.19,448.18 L746.38,446.40 L749.57,443.75 L752.75,433.11 L755.94,404.54 L759.13,355.49 L762.31,304.56 L765.50,281.12 L768.69,298.65 L771.87,348.30 L775.06,402.28 L778.25,436.85 L781.43,451.33 L784.62,453.30" fill="none" stroke="#ff3a0c" stroke-width="1.05" stroke-linejoin="round"/>
<path d="M478.67,447.90V453.30M481.86,447.90V453.30M485.04,447.90V453.30M488.23,447.90V453.30M491.42,447.90V453.30M494.61,447.90V453.30M497.79,447.90V453.30M500.98,447.90V453.30M504.17,447.90V453.30M507.35,447.90V453.30M510.54,447.90V453.30M513.73,447.90V453.30M516.91,447.90V453.30M520.10,447.90V453.30M523.29,447.90V453.30M526.48,447.90V453.30M529.66,447.90V453.30M532.85,447.90V453.30M536.04,447.90V453.30M539.22,447.90V453.30M542.41,447.90V453.30M545.60,447.90V453.30M548.78,447.90V453.30M551.97,447.90V453.30M555.16,447.90V453.30M558.35,447.90V453.30M561.53,447.90V453.30M564.72,447.90V453.30M567.91,447.90V453.30M571.09,447.90V453.30M574.28,447.90V453.30M577.47,447.90V453.30M580.65,447.90V453.30M583.84,447.90V453.30M587.03,447.90V453.30M590.22,447.90V453.30M593.40,447.90V453.30M596.59,447.90V453.30M599.78,447.90V453.30M602.96,447.90V453.30M606.15,447.90V453.30M609.34,447.90V453.30M612.52,447.90V453.30M615.71,447.90V453.30M618.90,447.90V453.30M622.09,447.90V453.30M625.27,447.90V453.30M628.46,447.90V453.30M631.65,447.90V453.30M634.83,447.90V453.30M638.02,447.90V453.30M641.21,447.90V453.30M644.39,447.90V453.30M647.58,447.90V453.30M650.77,447.90V453.30M653.96,447.90V453.30M657.14,447.90V453.30M660.33,447.90V453.30M663.52,447.90V453.30M666.70,447.90V453.30M669.89,447.90V453.30M673.08,447.90V453.30M676.26,447.90V453.30M679.45,447.90V453.30M682.64,447.90V453.30M685.83,447.90V453.30M689.01,447.90V453.30M692.20,447.90V453.30M695.39,447.90V453.30M698.57,447.90V453.30M701.76,447.90V453.30M704.95,447.90V453.30M708.13,447.90V453.30M711.32,447.90V453.30M714.51,447.90V453.30M717.70,447.90V453.30M720.88,447.90V453.30M718.67,452.71h10.8M724.07,447.31v10.8M721.86,452.31h10.8M727.26,446.91v10.8M725.04,451.82h10.8M730.44,446.42v10.8M728.23,451.13h10.8M733.63,445.73v10.8M731.42,450.34h10.8M736.82,444.94v10.8M734.60,449.36h10.8M740.00,443.96v10.8M737.79,448.18h10.8M743.19,442.78v10.8M740.98,446.40h10.8M746.38,441.00v10.8M744.17,443.75h10.8M749.57,438.35v10.8M747.35,433.11h10.8M752.75,427.71v10.8M750.54,404.54h10.8M755.94,399.14v10.8M753.73,355.49h10.8M759.13,350.09v10.8M756.91,304.56h10.8M762.31,299.16v10.8M760.10,281.12h10.8M765.50,275.72v10.8M763.29,298.65h10.8M768.69,293.25v10.8M766.47,348.30h10.8M771.87,342.90v10.8M769.66,402.28h10.8M775.06,396.88v10.8M772.85,436.85h10.8M778.25,431.45v10.8M776.03,451.33h10.8M781.43,445.93v10.8M784.62,447.90V453.30M787.81,447.90V453.30M791.00,447.90V453.30M794.18,447.90V453.30M797.37,447.90V453.30M800.56,447.90V453.30M803.74,447.90V453.30M806.93,447.90V453.30M810.12,447.90V453.30M813.30,447.90V453.30M816.49,447.90V453.30M819.68,447.90V453.30M822.87,447.90V453.30M826.05,447.90V453.30" fill="none" stroke="#ff3a0c" stroke-width="1.0"/>
</g>
<g transform="translate(0.00,0.00)"><path d="M232.3,98.5 L234.5,98.7 L232.9,108.9" fill="none" stroke="#2200dd" stroke-width="1.5" stroke-linejoin="round" stroke-linecap="round"/><path d="M232.9,109.1 C237.4,107.3 241.4,103.6 242.75,98.9" fill="none" stroke="#2200dd" stroke-width="1.2" stroke-linecap="round"/><path d="M242.75,98.9 L242.3,100.6" fill="none" stroke="#2200dd" stroke-width="1.7" stroke-linecap="round"/></g>
<g transform="translate(314.80,59.80)"><path d="M232.3,98.5 L234.5,98.7 L232.9,108.9" fill="none" stroke="#2200dd" stroke-width="1.5" stroke-linejoin="round" stroke-linecap="round"/><path d="M232.9,109.1 C237.4,107.3 241.4,103.6 242.75,98.9" fill="none" stroke="#2200dd" stroke-width="1.2" stroke-linecap="round"/><path d="M242.75,98.9 L242.3,100.6" fill="none" stroke="#2200dd" stroke-width="1.7" stroke-linecap="round"/></g>
<g transform="translate(-69.80,304.50)"><path d="M232.3,98.5 L234.5,98.7 L232.9,108.9" fill="none" stroke="#2200dd" stroke-width="1.5" stroke-linejoin="round" stroke-linecap="round"/><path d="M232.9,109.1 C237.4,107.3 241.4,103.6 242.75,98.9" fill="none" stroke="#2200dd" stroke-width="1.2" stroke-linecap="round"/><path d="M242.75,98.9 L242.3,100.6" fill="none" stroke="#2200dd" stroke-width="1.7" stroke-linecap="round"/></g>
<g transform="translate(342.10,299.00)"><path d="M232.3,98.5 L234.5,98.7 L232.9,108.9" fill="none" stroke="#2200dd" stroke-width="1.5" stroke-linejoin="round" stroke-linecap="round"/><path d="M232.9,109.1 C237.4,107.3 241.4,103.6 242.75,98.9" fill="none" stroke="#2200dd" stroke-width="1.2" stroke-linecap="round"/><path d="M242.75,98.9 L242.3,100.6" fill="none" stroke="#2200dd" stroke-width="1.7" stroke-linecap="round"/></g>
<g transform="translate(0.00,0.00)"><path d="M378.8,93.5 C376.3,93.8 375.4,95.9 377.3,96.6 C379.4,97.2 381.6,96.5 383.5,96.3 C378.5,97.6 372.6,101.3 372.5,105.2 C372.5,109.4 378.9,110.6 379.0,113.9 C379.0,116.3 376.6,116.2 375.4,114.8" fill="none" stroke="#ff3a0c" stroke-width="1.25" stroke-linecap="round" stroke-linejoin="round"/></g>
<g transform="translate(347.20,-22.50)"><path d="M378.8,93.5 C376.3,93.8 375.4,95.9 377.3,96.6 C379.4,97.2 381.6,96.5 383.5,96.3 C378.5,97.6 372.6,101.3 372.5,105.2 C372.5,109.4 378.9,110.6 379.0,113.9 C379.0,116.3 376.6,116.2 375.4,114.8" fill="none" stroke="#ff3a0c" stroke-width="1.25" stroke-linecap="round" stroke-linejoin="round"/></g>
<g transform="translate(-65.40,236.00)"><path d="M378.8,93.5 C376.3,93.8 375.4,95.9 377.3,96.6 C379.4,97.2 381.6,96.5 383.5,96.3 C378.5,97.6 372.6,101.3 372.5,105.2 C372.5,109.4 378.9,110.6 379.0,113.9 C379.0,116.3 376.6,116.2 375.4,114.8" fill="none" stroke="#ff3a0c" stroke-width="1.25" stroke-linecap="round" stroke-linejoin="round"/></g>
<g transform="translate(354.90,245.00)"><path d="M378.8,93.5 C376.3,93.8 375.4,95.9 377.3,96.6 C379.4,97.2 381.6,96.5 383.5,96.3 C378.5,97.6 372.6,101.3 372.5,105.2 C372.5,109.4 378.9,110.6 379.0,113.9 C379.0,116.3 376.6,116.2 375.4,114.8" fill="none" stroke="#ff3a0c" stroke-width="1.25" stroke-linecap="round" stroke-linejoin="round"/></g>
<text transform="translate(35.06,23.65) scale(0.2095,0.1738)" font-size="100" fill="#1c1c1c" stroke="#1c1c1c" stroke-width="1.36">10</text>
<text transform="translate(45.49,55.87) scale(0.2103,0.1737)" font-size="100" fill="#1c1c1c" stroke="#1c1c1c" stroke-width="1.35">8</text>
<text transform="translate(45.40,93.34) scale(0.2085,0.1743)" font-size="100" fill="#1c1c1c" stroke="#1c1c1c" stroke-width="1.36">6</text>
<text transform="translate(45.92,130.81) scale(0.1917,0.1757)" font-size="100" fill="#1c1c1c" stroke="#1c1c1c" stroke-width="1.42">4</text>
<text transform="translate(45.32,168.28) scale(0.2221,0.1744)" font-size="100" fill="#1c1c1c" stroke="#1c1c1c" stroke-width="1.31">2</text>
<text transform="translate(45.49,199.70) scale(0.2103,0.1738)" font-size="100" fill="#1c1c1c" stroke="#1c1c1c" stroke-width="1.35">0</text>
<text transform="translate(449.61,23.65) scale(0.2095,0.1738)" font-size="100" fill="#1c1c1c" stroke="#1c1c1c" stroke-width="1.36">10</text>
<text transform="translate(460.04,55.87) scale(0.2103,0.1737)" font-size="100" fill="#1c1c1c" stroke="#1c1c1c" stroke-width="1.35">8</text>
<text transform="translate(459.95,93.34) scale(0.2085,0.1743)" font-size="100" fill="#1c1c1c" stroke="#1c1c1c" stroke-width="1.36">6</text>
<text transform="translate(460.47,130.81) scale(0.1917,0.1757)" font-size="100" fill="#1c1c1c" stroke="#1c1c1c" stroke-width="1.42">4</text>
<text transform="translate(459.87,168.28) scale(0.2221,0.1744)" font-size="100" fill="#1c1c1c" stroke="#1c1c1c" stroke-width="1.31">2</text>
<text transform="translate(460.04,199.70) scale(0.2103,0.1738)" font-size="100" fill="#1c1c1c" stroke="#1c1c1c" stroke-width="1.35">0</text>
<text transform="translate(45.01,279.75) scale(0.2212,0.1763)" font-size="100" fill="#1c1c1c" stroke="#1c1c1c" stroke-width="1.31">5</text>
<text transform="translate(45.92,315.77) scale(0.1917,0.1757)" font-size="100" fill="#1c1c1c" stroke="#1c1c1c" stroke-width="1.42">4</text>
<text transform="translate(45.26,351.79) scale(0.2157,0.1743)" font-size="100" fill="#1c1c1c" stroke="#1c1c1c" stroke-width="1.33">3</text>
<text transform="translate(45.32,387.81) scale(0.2221,0.1744)" font-size="100" fill="#1c1c1c" stroke="#1c1c1c" stroke-width="1.31">2</text>
<text transform="translate(44.08,423.83) scale(0.2528,0.1750)" font-size="100" fill="#1c1c1c" stroke="#1c1c1c" stroke-width="1.22">1</text>
<text transform="translate(45.49,453.80) scale(0.2103,0.1738)" font-size="100" fill="#1c1c1c" stroke="#1c1c1c" stroke-width="1.35">0</text>
<text transform="translate(444.73,312.01) scale(0.2066,0.1738)" font-size="100" fill="#1c1c1c" stroke="#1c1c1c" stroke-width="1.37">1.5</text>
<text transform="translate(444.73,361.27) scale(0.2065,0.1726)" font-size="100" fill="#1c1c1c" stroke="#1c1c1c" stroke-width="1.37">1.0</text>
<text transform="translate(444.34,410.52) scale(0.2098,0.1726)" font-size="100" fill="#1c1c1c" stroke="#1c1c1c" stroke-width="1.36">0.5</text>
<text transform="translate(444.34,453.72) scale(0.2097,0.1726)" font-size="100" fill="#1c1c1c" stroke="#1c1c1c" stroke-width="1.36">0.0</text>
<text transform="translate(55.54,224.00) scale(0.2103,0.1738)" font-size="100" fill="#1c1c1c" stroke="#1c1c1c" stroke-width="1.35">0</text>
<text transform="translate(125.73,224.00) scale(0.2221,0.1744)" font-size="100" fill="#1c1c1c" stroke="#1c1c1c" stroke-width="1.31">2</text>
<text transform="translate(196.69,224.00) scale(0.1917,0.1757)" font-size="100" fill="#1c1c1c" stroke="#1c1c1c" stroke-width="1.42">4</text>
<text transform="translate(266.53,224.00) scale(0.2085,0.1743)" font-size="100" fill="#1c1c1c" stroke="#1c1c1c" stroke-width="1.36">6</text>
<text transform="translate(336.98,224.00) scale(0.2103,0.1737)" font-size="100" fill="#1c1c1c" stroke="#1c1c1c" stroke-width="1.35">8</text>
<text transform="translate(401.61,224.00) scale(0.2095,0.1738)" font-size="100" fill="#1c1c1c" stroke="#1c1c1c" stroke-width="1.36">10</text>
<path d="M460.80,218.70H470.90" stroke="#1c1c1c" stroke-width="1.05" fill="none"/>
<text transform="translate(473.00,224.00) scale(0.2091,0.1737)" font-size="100" fill="#1c1c1c" stroke="#1c1c1c" stroke-width="1.36">80</text>
<path d="M529.74,218.70H539.84" stroke="#1c1c1c" stroke-width="1.05" fill="none"/>
<text transform="translate(541.83,224.00) scale(0.2101,0.1738)" font-size="100" fill="#1c1c1c" stroke="#1c1c1c" stroke-width="1.35">60</text>
<path d="M598.68,218.70H608.78" stroke="#1c1c1c" stroke-width="1.05" fill="none"/>
<text transform="translate(611.27,224.00) scale(0.2050,0.1738)" font-size="100" fill="#1c1c1c" stroke="#1c1c1c" stroke-width="1.37">40</text>
<path d="M667.62,218.70H677.72" stroke="#1c1c1c" stroke-width="1.05" fill="none"/>
<text transform="translate(679.70,224.00) scale(0.2103,0.1738)" font-size="100" fill="#1c1c1c" stroke="#1c1c1c" stroke-width="1.35">20</text>
<text transform="translate(746.61,224.00) scale(0.2103,0.1738)" font-size="100" fill="#1c1c1c" stroke="#1c1c1c" stroke-width="1.35">0</text>
<text transform="translate(810.23,224.00) scale(0.2103,0.1738)" font-size="100" fill="#1c1c1c" stroke="#1c1c1c" stroke-width="1.35">20</text>
<path d="M106.68,472.80H116.78" stroke="#1c1c1c" stroke-width="1.05" fill="none"/>
<text transform="translate(118.67,478.10) scale(0.2113,0.1738)" font-size="100" fill="#1c1c1c" stroke="#1c1c1c" stroke-width="1.35">30</text>
<path d="M183.16,472.80H193.26" stroke="#1c1c1c" stroke-width="1.05" fill="none"/>
<text transform="translate(195.24,478.10) scale(0.2103,0.1738)" font-size="100" fill="#1c1c1c" stroke="#1c1c1c" stroke-width="1.35">20</text>
<path d="M260.14,472.80H270.24" stroke="#1c1c1c" stroke-width="1.05" fill="none"/>
<text transform="translate(271.30,478.10) scale(0.2095,0.1738)" font-size="100" fill="#1c1c1c" stroke="#1c1c1c" stroke-width="1.36">10</text>
<text transform="translate(346.16,478.10) scale(0.2103,0.1738)" font-size="100" fill="#1c1c1c" stroke="#1c1c1c" stroke-width="1.35">0</text>
<path d="M509.25,472.80H519.35" stroke="#1c1c1c" stroke-width="1.05" fill="none"/>
<text transform="translate(520.40,478.10) scale(0.2097,0.1749)" font-size="100" fill="#1c1c1c" stroke="#1c1c1c" stroke-width="1.35">15</text>
<path d="M589.15,472.80H599.25" stroke="#1c1c1c" stroke-width="1.05" fill="none"/>
<text transform="translate(600.31,478.10) scale(0.2095,0.1738)" font-size="100" fill="#1c1c1c" stroke="#1c1c1c" stroke-width="1.36">10</text>
<path d="M673.76,472.80H683.86" stroke="#1c1c1c" stroke-width="1.05" fill="none"/>
<text transform="translate(685.47,478.09) scale(0.2212,0.1763)" font-size="100" fill="#1c1c1c" stroke="#1c1c1c" stroke-width="1.31">5</text>
<text transform="translate(758.52,478.10) scale(0.2103,0.1738)" font-size="100" fill="#1c1c1c" stroke="#1c1c1c" stroke-width="1.35">0</text>
<g transform="translate(0.00,0.00)"><text transform="translate(207.51,244.80) scale(0.1879,0.1804)" font-size="100" font-style="italic" fill="#1c1c1c" stroke="#1c1c1c" stroke-width="2.44">x</text><text transform="translate(224.99,246.29) scale(0.2024,0.2229)" font-size="100" fill="#1c1c1c" stroke="#1c1c1c" stroke-width="1.32">[</text><text transform="translate(232.93,244.72) scale(0.2259,0.1771)" font-size="100" fill="#1c1c1c" stroke="#1c1c1c" stroke-width="1.39">cm</text><text transform="translate(261.47,246.29) scale(0.2024,0.2229)" font-size="100" fill="#1c1c1c" stroke="#1c1c1c" stroke-width="1.32">]</text></g>
<g transform="translate(0.00,0.00)"><text transform="translate(190.32,498.50) scale(0.1946,0.1826)" font-size="100" font-style="italic" fill="#1c1c1c" stroke="#1c1c1c" stroke-width="2.39">x</text><path d="M202.20,494.30H212.10" stroke="#1c1c1c" stroke-width="1.1" fill="none"/><text transform="translate(215.02,498.50) scale(0.1946,0.1826)" font-size="100" font-style="italic" fill="#1c1c1c" stroke="#1c1c1c" stroke-width="2.39">x</text><text transform="translate(224.46,503.30) scale(0.1394,0.1038)" font-size="100" fill="#1c1c1c" stroke="#1c1c1c" stroke-width="2.30">0</text><text transform="translate(239.79,500.32) scale(0.2159,0.2205)" font-size="100" fill="#1c1c1c" stroke="#1c1c1c" stroke-width="1.28">[</text><text transform="translate(247.68,499.03) scale(0.2250,0.1941)" font-size="100" font-style="italic" fill="#1c1c1c" stroke="#1c1c1c" stroke-width="1.34">μ</text><text transform="translate(258.72,498.50) scale(0.2267,0.1809)" font-size="100" fill="#1c1c1c" stroke="#1c1c1c" stroke-width="1.37">m</text><text transform="translate(277.22,500.32) scale(0.2159,0.2205)" font-size="100" fill="#1c1c1c" stroke="#1c1c1c" stroke-width="1.28">]</text></g>
<g transform="translate(415.00,0.00)"><text transform="translate(190.32,498.50) scale(0.1946,0.1826)" font-size="100" font-style="italic" fill="#1c1c1c" stroke="#1c1c1c" stroke-width="2.39">x</text><path d="M202.20,494.30H212.10" stroke="#1c1c1c" stroke-width="1.1" fill="none"/><text transform="translate(215.02,498.50) scale(0.1946,0.1826)" font-size="100" font-style="italic" fill="#1c1c1c" stroke="#1c1c1c" stroke-width="2.39">x</text><text transform="translate(224.46,503.30) scale(0.1394,0.1038)" font-size="100" fill="#1c1c1c" stroke="#1c1c1c" stroke-width="2.30">0</text><text transform="translate(239.79,500.32) scale(0.2159,0.2205)" font-size="100" fill="#1c1c1c" stroke="#1c1c1c" stroke-width="1.28">[</text><text transform="translate(247.68,499.03) scale(0.2250,0.1941)" font-size="100" font-style="italic" fill="#1c1c1c" stroke="#1c1c1c" stroke-width="1.34">μ</text><text transform="translate(258.72,498.50) scale(0.2267,0.1809)" font-size="100" fill="#1c1c1c" stroke="#1c1c1c" stroke-width="1.37">m</text><text transform="translate(277.22,500.32) scale(0.2159,0.2205)" font-size="100" fill="#1c1c1c" stroke="#1c1c1c" stroke-width="1.28">]</text></g>
<g transform="translate(415.00,-254.00)"><text transform="translate(190.32,498.50) scale(0.1946,0.1826)" font-size="100" font-style="italic" fill="#1c1c1c" stroke="#1c1c1c" stroke-width="2.39">x</text><path d="M202.20,494.30H212.10" stroke="#1c1c1c" stroke-width="1.1" fill="none"/><text transform="translate(215.02,498.50) scale(0.1946,0.1826)" font-size="100" font-style="italic" fill="#1c1c1c" stroke="#1c1c1c" stroke-width="2.39">x</text><text transform="translate(224.46,503.30) scale(0.1394,0.1038)" font-size="100" fill="#1c1c1c" stroke="#1c1c1c" stroke-width="2.30">0</text><text transform="translate(239.79,500.32) scale(0.2159,0.2205)" font-size="100" fill="#1c1c1c" stroke="#1c1c1c" stroke-width="1.28">[</text><text transform="translate(247.68,499.03) scale(0.2250,0.1941)" font-size="100" font-style="italic" fill="#1c1c1c" stroke="#1c1c1c" stroke-width="1.34">μ</text><text transform="translate(258.72,498.50) scale(0.2267,0.1809)" font-size="100" fill="#1c1c1c" stroke="#1c1c1c" stroke-width="1.37">m</text><text transform="translate(277.22,500.32) scale(0.2159,0.2205)" font-size="100" fill="#1c1c1c" stroke="#1c1c1c" stroke-width="1.28">]</text></g>
<g transform="translate(20.20,200.00) rotate(-90)"><g transform="translate(48.4,-8.9) scale(0.75,0.79) translate(-231.7,-98.2)"><path d="M232.3,98.5 L234.5,98.7 L232.9,108.9" fill="none" stroke="#1c1c1c" stroke-width="1.5" stroke-linejoin="round" stroke-linecap="round"/><path d="M232.9,109.1 C237.4,107.3 241.4,103.6 242.75,98.9" fill="none" stroke="#1c1c1c" stroke-width="1.2" stroke-linecap="round"/><path d="M242.75,98.9 L242.3,100.6" fill="none" stroke="#1c1c1c" stroke-width="1.7" stroke-linecap="round"/></g><text transform="translate(66.43,1.06) scale(0.1979,0.2326)" font-size="100" fill="#1c1c1c" stroke="#1c1c1c" stroke-width="1.30">[</text><text transform="translate(74.61,-0.09) scale(0.2054,0.1875)" font-size="100" fill="#1c1c1c" stroke="#1c1c1c" stroke-width="1.43">c</text><text transform="translate(84.13,0.00) scale(0.2226,0.1894)" font-size="100" fill="#1c1c1c" stroke="#1c1c1c" stroke-width="1.36">m</text><text transform="translate(102.78,-8.90) scale(0.1173,0.1057)" font-size="100" fill="#1c1c1c" stroke="#1c1c1c" stroke-width="2.51">2</text><text transform="translate(109.05,-0.09) scale(0.2027,0.1875)" font-size="100" fill="#1c1c1c" stroke="#1c1c1c" stroke-width="1.44">s</text><path d="M119.20,-12.20H125.90" stroke="#1c1c1c" stroke-width="1.0" fill="none"/><text transform="translate(127.25,-8.90) scale(0.0966,0.1061)" font-size="100" fill="#1c1c1c" stroke="#1c1c1c" stroke-width="2.76">1</text><text transform="translate(134.58,1.06) scale(0.1709,0.2326)" font-size="100" fill="#1c1c1c" stroke="#1c1c1c" stroke-width="1.39">]</text></g>
<g transform="translate(30.70,454.10) rotate(-90)"><g transform="translate(48.4,-8.9) scale(0.75,0.79) translate(-231.7,-98.2)"><path d="M232.3,98.5 L234.5,98.7 L232.9,108.9" fill="none" stroke="#1c1c1c" stroke-width="1.5" stroke-linejoin="round" stroke-linecap="round"/><path d="M232.9,109.1 C237.4,107.3 241.4,103.6 242.75,98.9" fill="none" stroke="#1c1c1c" stroke-width="1.2" stroke-linecap="round"/><path d="M242.75,98.9 L242.3,100.6" fill="none" stroke="#1c1c1c" stroke-width="1.7" stroke-linecap="round"/></g><text transform="translate(66.43,1.06) scale(0.1979,0.2326)" font-size="100" fill="#1c1c1c" stroke="#1c1c1c" stroke-width="1.30">[</text><text transform="translate(74.61,-0.09) scale(0.2054,0.1875)" font-size="100" fill="#1c1c1c" stroke="#1c1c1c" stroke-width="1.43">c</text><text transform="translate(84.13,0.00) scale(0.2226,0.1894)" font-size="100" fill="#1c1c1c" stroke="#1c1c1c" stroke-width="1.36">m</text><text transform="translate(102.78,-8.90) scale(0.1173,0.1057)" font-size="100" fill="#1c1c1c" stroke="#1c1c1c" stroke-width="2.51">2</text><text transform="translate(109.05,-0.09) scale(0.2027,0.1875)" font-size="100" fill="#1c1c1c" stroke="#1c1c1c" stroke-width="1.44">s</text><path d="M119.20,-12.20H125.90" stroke="#1c1c1c" stroke-width="1.0" fill="none"/><text transform="translate(127.25,-8.90) scale(0.0966,0.1061)" font-size="100" fill="#1c1c1c" stroke="#1c1c1c" stroke-width="2.76">1</text><text transform="translate(134.58,1.06) scale(0.1709,0.2326)" font-size="100" fill="#1c1c1c" stroke="#1c1c1c" stroke-width="1.39">]</text></g>
<text transform="translate(79.10,184.98) scale(0.2727,0.2888)" font-size="100" fill="#1c1c1c" stroke="#1c1c1c" stroke-width="0.00">(</text><text transform="translate(89.32,184.18) scale(0.3042,0.2208)" font-size="100" fill="#1c1c1c" stroke="#1c1c1c" stroke-width="0.19">a</text><text transform="translate(104.90,184.94) scale(0.2770,0.2880)" font-size="100" fill="#1c1c1c" stroke="#1c1c1c" stroke-width="0.00">)</text>
<text transform="translate(493.18,40.68) scale(0.3000,0.2788)" font-size="100" fill="#1c1c1c" stroke="#1c1c1c" stroke-width="0.00">(</text><text transform="translate(506.30,40.06) scale(0.2535,0.2355)" font-size="100" fill="#1c1c1c" stroke="#1c1c1c" stroke-width="0.20">b</text><text transform="translate(520.39,40.65) scale(0.2809,0.2781)" font-size="100" fill="#1c1c1c" stroke="#1c1c1c" stroke-width="0.00">)</text>
<text transform="translate(76.88,295.33) scale(0.3000,0.2766)" font-size="100" fill="#1c1c1c" stroke="#1c1c1c" stroke-width="0.00">(</text><text transform="translate(87.26,294.56) scale(0.2988,0.2396)" font-size="100" fill="#1c1c1c" stroke="#1c1c1c" stroke-width="0.19">c</text><text transform="translate(101.72,295.29) scale(0.2731,0.2758)" font-size="100" fill="#1c1c1c" stroke="#1c1c1c" stroke-width="0.00">)</text>
<text transform="translate(492.38,295.41) scale(0.3000,0.2777)" font-size="100" fill="#1c1c1c" stroke="#1c1c1c" stroke-width="0.00">(</text><text transform="translate(502.94,295.15) scale(0.2924,0.2497)" font-size="100" fill="#1c1c1c" stroke="#1c1c1c" stroke-width="0.18">d</text><text transform="translate(518.89,295.37) scale(0.2809,0.2769)" font-size="100" fill="#1c1c1c" stroke="#1c1c1c" stroke-width="0.00">)</text>
</svg>
</body></html>
